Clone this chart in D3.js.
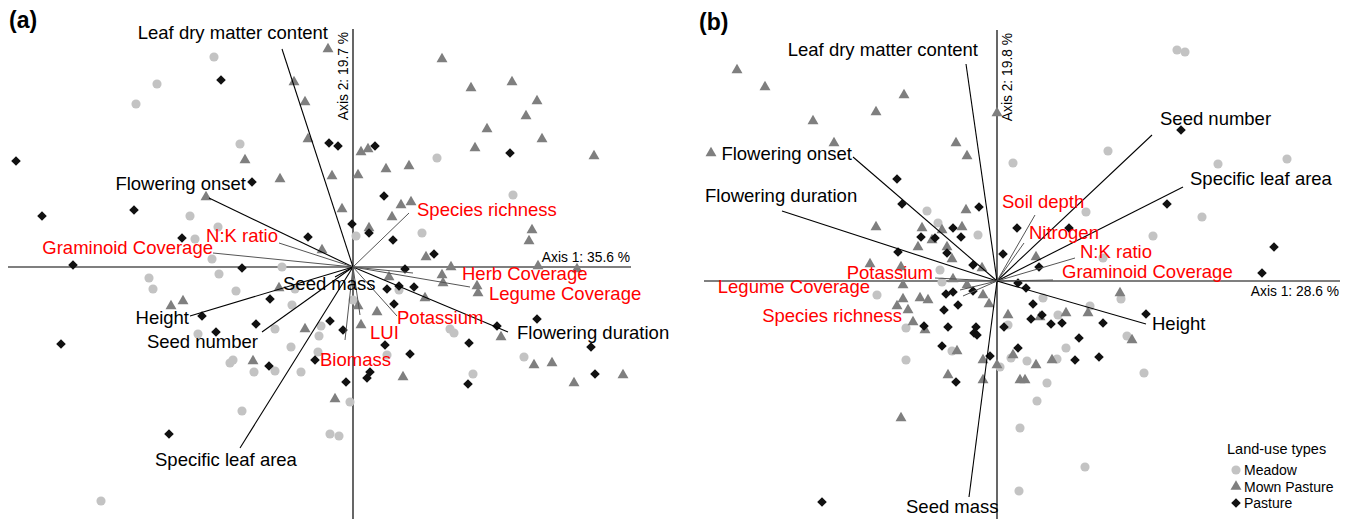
<!DOCTYPE html>
<html>
<head>
<meta charset="utf-8">
<script src="https://cdn.jsdelivr.net/npm/d3@7"></script>
<style>
  body { margin: 0; background: #fff; }
  svg text { font-family: "Liberation Sans", Arial, sans-serif; }
</style>
</head>
<body>
<svg id="chart" width="1349" height="519"></svg>
<script>
// ---- panel (a) site scores, [axis1, axis2] ----
const meadowA = [[-1.39,2.10],[-1.96,1.83],[-2.17,1.63],[-1.13,1.23],[-1.63,0.51],[-1.35,0.40],[-1.58,0.28],[0.84,1.09],[1.60,0.72],[0.03,0.31],[0.69,0.34],[-1.41,0.08],[-0.71,0.00],[-2.04,-0.11],[-2.00,-0.22],[-1.34,-0.07],[-1.17,-0.24],[-0.58,-0.22],[-0.61,-0.38],[-1.55,-0.67],[-0.78,-0.62],[-0.32,-0.59],[-0.34,-0.69],[-0.62,-0.80],[-0.35,-0.85],[-1.23,-0.96],[-1.20,-0.93],[-0.99,-1.05],[-0.78,-1.04],[-0.52,-1.05],[-1.11,-1.44],[-0.23,-1.67],[-0.14,-1.69],[-0.03,-1.35],[-2.52,-2.34],[0.46,-0.23],[0.00,-0.33],[0.34,-0.88],[0.97,-0.62],[1.01,-0.66],[1.20,-1.07],[1.71,-0.90]];
const mownA = [[-0.25,2.18],[-0.59,1.85],[-0.48,1.65],[-1.08,1.07],[-0.45,1.28],[-0.73,0.88],[-0.21,0.91],[-1.47,0.70],[-0.31,0.17],[0.89,2.08],[1.18,1.79],[1.59,1.85],[1.84,1.66],[1.73,1.51],[1.34,1.38],[1.89,1.28],[1.22,1.19],[2.41,1.11],[0.08,1.15],[0.15,1.18],[0.05,0.92],[0.33,0.98],[0.56,1.01],[0.48,0.62],[0.58,0.65],[0.39,0.50],[-0.11,0.58],[0.16,0.39],[1.79,0.37],[1.76,0.26],[0.73,0.10],[0.98,0.00],[1.85,0.01],[2.24,-0.02],[0.36,-0.10],[0.89,-0.08],[0.90,-0.16],[1.24,-0.19],[1.25,-0.26],[0.05,-0.39],[0.72,-0.31],[0.24,-0.45],[0.08,-0.58],[1.48,-0.70],[1.81,-0.98],[1.99,-0.96],[2.70,-1.08],[2.21,-1.16],[0.50,-1.10],[-0.18,-1.32],[-0.74,-0.21],[-1.82,-0.39],[-1.70,-0.34],[-0.48,-0.62],[-1.00,-0.94]];
const pastureA = [[-1.32,1.87],[-0.24,1.24],[-0.15,1.21],[-3.37,1.06],[-1.01,0.85],[-3.11,0.51],[-2.19,0.57],[-0.45,0.30],[-1.71,0.29],[0.22,1.21],[1.57,1.14],[0.31,0.71],[-0.01,0.43],[0.16,0.34],[0.40,0.27],[0.81,0.13],[0.52,-0.02],[0.46,-0.19],[0.61,-0.20],[0.34,-0.22],[0.41,-0.37],[1.84,-0.52],[1.44,-0.59],[1.16,-0.76],[0.32,-0.78],[0.57,-0.87],[0.17,-1.05],[0.14,-1.11],[-0.07,-1.15],[1.15,-1.17],[2.38,-0.80],[2.42,-1.07],[-2.80,0.02],[-1.11,-0.01],[-0.83,-0.32],[-1.51,-0.49],[-0.97,-0.57],[-1.37,-0.65],[-0.23,-0.54],[-0.10,-0.63],[-2.92,-0.77],[-0.84,-0.99],[-0.38,-0.93],[-1.84,-1.67]];

// ---- panel (a) variables ----
const varsA = ["Leaf dry matter content","Flowering onset","N:K ratio","Graminoid Coverage","Seed mass","Height","Seed number","Specific leaf area","Biomass","LUI","Potassium","Flowering duration","Herb Coverage","Legume Coverage","Species richness"];
const loadA1 = [-0.71,-1.44,-0.74,-1.40,-0.18,-1.63,-0.91,-1.13,-0.08,0.07,0.44,1.55,0.60,1.17,0.56];
const loadA2 = [2.18,0.69,0.24,0.14,-0.10,-0.49,-0.65,-1.81,-0.73,-0.48,-0.49,-0.65,-0.06,-0.20,0.54];
const envA = [0,0,1,1,0,0,0,0,1,1,1,0,1,1,1];
const axisA = ["Axis 1: 35.6 %","Axis 2: 19.7 %"];

// ---- panel (b) site scores ----
const meadowB = [[0.16,1.18],[-0.70,0.70],[-0.59,0.58],[-0.19,0.46],[-0.57,0.11],[-0.55,-0.01],[-1.20,-0.14],[-0.91,-0.47],[-0.45,-0.70],[0.03,-0.86],[-0.91,-0.79],[0.14,-0.77],[0.23,-1.47],[0.22,-2.10],[0.89,0.69],[1.56,0.45],[1.06,0.23],[1.24,-0.18],[0.46,-0.17],[0.93,-0.25],[0.61,-0.34],[1.30,-0.55],[0.69,-0.67],[0.30,-0.80],[0.60,-0.78],[1.47,-0.92],[0.50,-1.02],[0.40,-1.20],[0.88,-1.86],[1.80,2.31],[1.88,2.29],[1.11,1.30],[2.21,1.17],[2.90,1.22],[2.05,0.64],[0.11,-0.44]];
const mownB = [[-2.60,2.11],[-2.32,1.94],[-1.84,1.60],[-1.63,1.38],[-1.21,1.69],[-0.93,1.86],[0.00,1.68],[-0.41,1.38],[-0.30,1.25],[-2.86,1.28],[-0.31,0.71],[-1.21,0.54],[-0.75,0.53],[-0.55,0.51],[-0.35,0.54],[-0.65,0.41],[-0.79,0.34],[-0.50,0.34],[-0.45,0.22],[-1.27,0.17],[-0.96,0.14],[-0.44,0.02],[-0.15,0.13],[-0.94,-0.04],[-0.30,-0.04],[-0.14,-0.14],[-0.77,-0.17],[-0.69,-0.19],[-0.94,-0.18],[-1.00,-0.25],[-0.89,-0.29],[-0.08,-0.23],[0.11,-0.34],[-0.84,-0.41],[-0.72,-0.49],[-0.40,-0.70],[-0.14,-0.79],[0.00,-0.84],[-0.49,-0.94],[-0.14,-0.99],[-0.96,-1.37],[0.39,0.24],[1.23,-0.12],[0.69,-0.32],[0.91,-0.32],[0.43,-0.36],[1.35,-0.59],[0.16,-0.74],[0.39,-0.84],[0.55,-0.79],[0.23,-0.99],[0.28,-0.99]];
const pastureB = [[-1.00,1.02],[-0.95,0.77],[-0.18,0.74],[-0.44,0.53],[-0.36,0.44],[-0.76,0.44],[-0.62,0.43],[-0.99,0.29],[0.06,0.27],[0.20,0.53],[-0.50,0.28],[-0.24,0.16],[-0.51,-0.13],[-0.44,-0.11],[-0.24,-0.10],[-0.53,-0.29],[-0.39,-0.24],[-0.73,-0.45],[-0.49,-0.46],[-0.21,-0.46],[-0.23,-0.52],[-0.20,-0.54],[0.07,-0.46],[-0.55,-0.65],[-0.07,-0.75],[-0.41,-1.01],[0.21,-0.67],[-1.75,-2.21],[0.72,0.53],[1.70,0.77],[0.42,0.14],[0.21,-0.02],[0.29,-0.07],[0.36,-0.23],[0.45,-0.34],[0.34,-0.38],[0.54,-0.43],[0.65,-0.42],[1.06,-0.42],[1.49,-0.33],[0.82,-0.57],[0.78,-0.79],[1.02,-0.76],[1.84,1.51],[2.77,0.34],[2.65,0.08]];

// ---- panel (b) variables ----
const varsB = ["Leaf dry matter content","Flowering onset","Flowering duration","Seed number","Specific leaf area","Soil depth","Nitrogen","N:K ratio","Graminoid Coverage","Height","Seed mass","Potassium","Legume Coverage","Species richness"];
const loadB1 = [-0.31,-1.44,-2.15,1.55,1.86,0.38,0.27,0.78,0.56,1.49,-0.28,-0.62,-0.37,-0.34];
const loadB2 = [2.17,1.24,0.70,1.46,0.94,0.66,0.38,0.23,0.01,-0.43,-2.16,0.03,-0.09,-0.15];
const envB = [0,0,0,0,0,1,1,1,1,0,0,1,1,1];
const axisB = ["Axis 1: 28.6 %","Axis 2: 19.8 %"];

const groups = ["Meadow","Mown Pasture","Pasture"];

// label placement next to arrow tips: [anchor, dx, dy] in px
const labelPosA = [["end",46,-10],["end",37,-8],["end",-1,-1],["end",0,1],["start",-52,13],["end",-1,8],["end",-4,16],["start",-85,18],["start",-25,26],["start",10,24],["start",0,8],["start",9,7],["start",49,7],["start",19,13],["start",8,3]];
const labelPosB = [["end",12,-8],["end",-1,3],["start",-77,-9],["start",8,-10],["start",7,-2],["start",-33,-7],["start",5,-4],["start",5,0],["start",9,-2],["start",6,6],["start",-63,16],["end",-2,1],["end",-90,3],["end",-61,26]];

const svg = d3.select('#chart');

const symbolFor = {
  "Meadow": d3.symbol().type(d3.symbolCircle).size(66),
  "Mown Pasture": d3.symbol().type(d3.symbolTriangle).size(52),
  "Pasture": d3.symbol().type(d3.symbolSquare).size(46)
};
const fillFor = {"Meadow": "#c3c3c3", "Mown Pasture": "#7f7f7f", "Pasture": "#111"};
const rotFor = {"Meadow": 0, "Mown Pasture": 0, "Pasture": 45};

function drawPanel(cfg) {
  const x = d3.scaleLinear().domain(cfg.xDomain).range(cfg.xRange);
  const y = d3.scaleLinear().domain(cfg.yDomain).range(cfg.yRange);
  const g = svg.append('g');

  // axes through the origin
  g.append('line')
      .attr('x1', x(cfg.xDomain[0])).attr('x2', x(cfg.xDomain[1]))
      .attr('y1', y(0)).attr('y2', y(0))
      .attr('stroke', '#000').attr('stroke-width', 1.2);
  g.append('line')
      .attr('x1', x(0)).attr('x2', x(0))
      .attr('y1', y(cfg.yDomain[0])).attr('y2', y(cfg.yDomain[1]))
      .attr('stroke', '#000').attr('stroke-width', 1.2);

  g.append('text')
      .attr('x', x(cfg.xDomain[1]) - 1)
      .attr('y', y(0) + cfg.ax1dy)
      .attr('text-anchor', 'end')
      .attr('font-size', '13.8px')
      .text(cfg.axisText[0]);
  g.append('text')
      .attr('transform', 'translate(' + (x(0) + cfg.ax2dx) + ',' + (y(cfg.yDomain[0]) + 3) + ') rotate(-90)')
      .attr('text-anchor', 'end')
      .attr('font-size', '13.8px')
      .text(cfg.axisText[1]);

  // points
  cfg.sites.forEach((set, k) => {
    const grp = groups[k];
    g.selectAll(null)
      .data(set)
      .enter().append('path')
        .attr('d', symbolFor[grp])
        .attr('transform', d => 'translate(' + x(d[0]) + ',' + y(d[1]) + ') rotate(' + rotFor[grp] + ')')
        .attr('fill', fillFor[grp]);
  });

  // variable arrows
  const vecs = cfg.vars.map((name, i) => ({name: name, a1: cfg.l1[i], a2: cfg.l2[i], env: cfg.env[i], pos: cfg.pos[i]}));
  g.selectAll(null)
    .data(vecs)
    .enter().append('line')
      .attr('x1', x(0)).attr('y1', y(0))
      .attr('x2', d => x(d.a1)).attr('y2', d => y(d.a2))
      .attr('stroke', d => d.env ? '#555' : '#000')
      .attr('stroke-width', d => d.env ? 1 : 1.1);

  g.selectAll(null)
    .data(vecs)
    .enter().append('text')
      .attr('x', d => x(d.a1) + d.pos[1])
      .attr('y', d => y(d.a2) + d.pos[2])
      .attr('text-anchor', d => d.pos[0])
      .attr('font-size', '18.5px')
      .attr('fill', d => d.env ? '#ff0000' : '#000')
      .text(d => d.name);

  svg.append('text')
      .attr('x', cfg.tag[1]).attr('y', cfg.tag[2])
      .attr('font-size', '23px')
      .attr('font-weight', 'bold')
      .text(cfg.tag[0]);
  return {x: x, y: y};
}

drawPanel({
  xDomain: [-3.45, 2.78], xRange: [8, 631],
  yDomain: [2.38, -2.52], yRange: [29, 519],
  axisText: axisA, ax1dy: -5, ax2dx: -5,
  sites: [meadowA, mownA, pastureA],
  vars: varsA, l1: loadA1, l2: loadA2, env: envA, pos: labelPosA,
  tag: ["(a)", 9, 28]
});

drawPanel({
  xDomain: [-2.93, 3.43], xRange: [704, 1340],
  yDomain: [2.51, -2.38], yRange: [30, 519],
  axisText: axisB, ax1dy: 15, ax2dx: 15,
  sites: [meadowB, mownB, pastureB],
  vars: varsB, l1: loadB1, l2: loadB2, env: envB, pos: labelPosB,
  tag: ["(b)", 699, 30]
});

// legend
const legend = svg.append('g').attr('transform', 'translate(1227,454)');
legend.append('text').attr('font-size', '14.5px').text('Land-use types');
groups.forEach((grp, i) => {
  const row = legend.append('g').attr('transform', 'translate(0,' + (16 + i * 16.5) + ')');
  row.append('path')
      .attr('d', symbolFor[grp])
      .attr('transform', 'translate(9,0) rotate(' + rotFor[grp] + ')')
      .attr('fill', fillFor[grp]);
  row.append('text')
      .attr('x', 17).attr('y', 5)
      .attr('font-size', '14px')
      .text(grp);
});
</script>
</body>
</html>
